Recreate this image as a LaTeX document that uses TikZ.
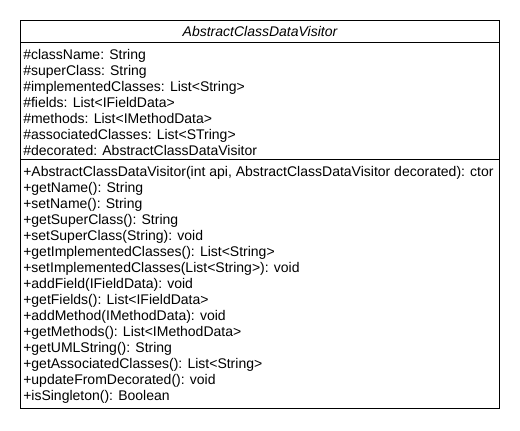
\documentclass[tikz,border=0pt]{standalone}
\usepackage{fontspec}
\setmainfont{Liberation Sans}
\tikzset{
  row/.style={anchor=base west, inner sep=0pt, font=\fontsize{10.5pt}{12pt}\selectfont},
  titletext/.style={anchor=base, inner sep=0pt, font=\fontsize{10.5pt}{12pt}\selectfont\itshape},
  frame/.style={draw=black, line width=0.75pt},
}
\begin{document}
\begin{tikzpicture}[x=0.75pt,y=-0.75pt]
\useasboundingbox (0,0) rectangle (520,430);
\fill[white] (0,0) rectangle (520,430);
\coordinate (tl) at (20.5,20.5);
\coordinate (br) at (499.5,408.5);
\draw[frame] (tl) rectangle (br);
\coordinate (s1l) at (20.5,42.5);
\coordinate (s1r) at (499.5,42.5);
\coordinate (s2l) at (20.5,159.5);
\coordinate (s2r) at (499.5,159.5);
\draw[frame] (s1l) -- (s1r);
\draw[frame] (s2l) -- (s2r);
\node[titletext] (title) at (260,36.5) {AbstractClassDataVisitor};
% attributes
\node[row] (a1) at (23,59.5) {\#className: String};
\node[row] (a2) at (23,75.5) {\#superClass: String};
\node[row] (a3) at (23,91.5) {\#implementedClasses: List<String>};
\node[row] (a4) at (23,107.5) {\#fields: List<IFieldData>};
\node[row] (a5) at (23,123.5) {\#methods: List<IMethodData>};
\node[row] (a6) at (23,139.5) {\#associatedClasses: List<STring>};
\node[row] (a7) at (23,155.5) {\#decorated: AbstractClassDataVisitor};
% methods
\node[row] (m1) at (23,176.5) {+AbstractClassDataVisitor(int api, AbstractClassDataVisitor decorated): ctor};
\node[row] (m2) at (23,192.5) {+getName(): String};
\node[row] (m3) at (23,208.5) {+setName(): String};
\node[row] (m4) at (23,224.5) {+getSuperClass(): String};
\node[row] (m5) at (23,240.5) {+setSuperClass(String): void};
\node[row] (m6) at (23,256.5) {+getImplementedClasses(): List<String>};
\node[row] (m7) at (23,272.5) {+setImplementedClasses(List<String>): void};
\node[row] (m8) at (23,288.5) {+addField(IFieldData): void};
\node[row] (m9) at (23,304.5) {+getFields(): List<IFieldData>};
\node[row] (m10) at (23,320.5) {+addMethod(IMethodData): void};
\node[row] (m11) at (23,336.5) {+getMethods(): List<IMethodData>};
\node[row] (m12) at (23,352.5) {+getUMLString(): String};
\node[row] (m13) at (23,368.5) {+getAssociatedClasses(): List<String>};
\node[row] (m14) at (23,384.5) {+updateFromDecorated(): void};
\node[row] (m15) at (23,400.5) {+isSingleton(): Boolean};
\end{tikzpicture}
\end{document}
